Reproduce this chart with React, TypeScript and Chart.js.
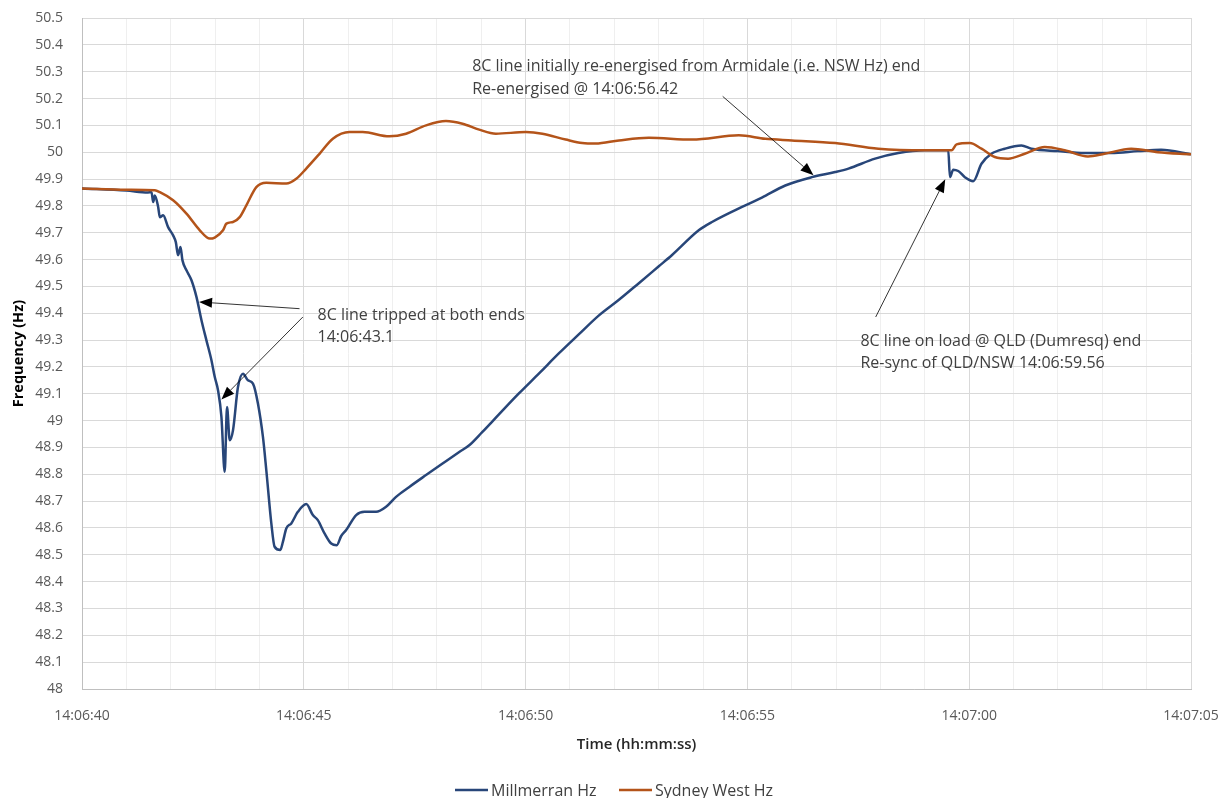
import React, { useEffect, useRef } from "react";
import { Chart, registerables } from "chart.js";

Chart.register(...registerables);

// seconds after 14:06:40
const millT = [0, 1.0, 1.485, 1.568, 1.604, 1.642, 1.717, 1.755, 1.829, 1.941, 2.054, 2.115, 2.166, 2.22, 2.265, 2.355, 2.468, 2.58, 2.693, 2.805, 2.918, 2.992, 3.066, 3.143, 3.217, 3.269, 3.33, 3.404, 3.516, 3.629, 3.741, 3.854, 3.966, 4.079, 4.155, 4.268, 4.342, 4.47, 4.529, 4.605, 4.718, 4.866, 5.055, 5.204, 5.316, 5.467, 5.618, 5.744, 5.843, 5.955, 6.18, 6.367, 6.63, 6.855, 7.08, 7.379, 7.755, 8.128, 8.504, 8.729, 9.021, 9.404, 9.854, 10.304, 10.754, 11.204, 11.654, 12.104, 12.553, 13.003, 13.296, 13.903, 14.202, 14.954, 15.327, 15.854, 16.452, 16.979, 17.278, 17.879, 18.403, 19.003, 19.528, 19.566, 19.64, 19.753, 19.903, 20.09, 20.277, 20.502, 20.803, 21.177, 21.402, 22.002, 22.603, 23.201, 23.802, 24.326, 25.0];
const millHz = [49.865, 49.857, 49.85, 49.851, 49.814, 49.839, 49.796, 49.758, 49.765, 49.721, 49.69, 49.665, 49.616, 49.647, 49.597, 49.56, 49.523, 49.461, 49.374, 49.299, 49.225, 49.163, 49.113, 49.014, 48.809, 49.051, 48.927, 48.964, 49.125, 49.175, 49.15, 49.138, 49.064, 48.939, 48.815, 48.617, 48.53, 48.518, 48.548, 48.598, 48.617, 48.66, 48.689, 48.648, 48.629, 48.58, 48.542, 48.536, 48.57, 48.592, 48.648, 48.66, 48.66, 48.679, 48.716, 48.753, 48.797, 48.84, 48.883, 48.908, 48.957, 49.024, 49.102, 49.176, 49.251, 49.322, 49.392, 49.45, 49.512, 49.575, 49.616, 49.709, 49.74, 49.802, 49.831, 49.876, 49.907, 49.926, 49.939, 49.976, 49.997, 50.007, 50.007, 49.907, 49.935, 49.93, 49.907, 49.892, 49.957, 49.994, 50.013, 50.025, 50.013, 50.004, 49.997, 49.997, 50.004, 50.009, 49.992];

const sydT = [0, 1.0, 1.642, 1.755, 2.054, 2.355, 2.655, 2.88, 2.992, 3.179, 3.255, 3.404, 3.555, 3.705, 3.93, 4.155, 4.605, 4.83, 5.055, 5.354, 5.654, 6.03, 6.329, 6.929, 7.305, 7.755, 8.205, 8.578, 8.954, 9.33, 10.004, 10.378, 10.904, 11.278, 11.579, 12.104, 12.778, 13.753, 14.806, 15.403, 16.002, 16.979, 17.953, 19.003, 19.528, 19.603, 19.715, 20.015, 20.277, 20.578, 20.877, 21.253, 21.703, 22.153, 22.677, 23.052, 23.652, 24.252, 25.0];
const sydHz = [49.865, 49.86, 49.858, 49.851, 49.821, 49.771, 49.709, 49.678, 49.682, 49.709, 49.734, 49.74, 49.758, 49.802, 49.87, 49.886, 49.883, 49.901, 49.939, 49.994, 50.05, 50.075, 50.075, 50.059, 50.069, 50.1, 50.116, 50.106, 50.084, 50.069, 50.075, 50.069, 50.047, 50.034, 50.032, 50.044, 50.054, 50.047, 50.063, 50.05, 50.044, 50.034, 50.013, 50.007, 50.007, 50.007, 50.029, 50.034, 50.013, 49.982, 49.976, 49.994, 50.019, 50.007, 49.984, 49.994, 50.013, 50.0, 49.992];

const seriesNames = ["Millmerran Hz", "Sydney West Hz"];
const seriesColors = ["#284679", "#B4541A"];

const startSeconds = 14 * 3600 + 6 * 60 + 40;

// annotation texts and arrows in data units (seconds, Hz)
const noteTexts = [
  { t: 5.31, v: 49.392, lines: ["8C line tripped at both ends", "14:06:43.1"] },
  { t: 8.796, v: 50.319, lines: ["8C line initially re-energised from Armidale (i.e. NSW Hz) end", "Re-energised @ 14:06:56.42"] },
  { t: 17.548, v: 49.296, lines: ["8C line on load @ QLD (Dumresq) end", "Re-sync of QLD/NSW 14:06:59.56"] },
];
const noteArrows = [
  { t0: 4.904, v0: 49.417, t1: 2.639, v1: 49.442 },
  { t0: 4.979, v0: 49.386, t1: 3.143, v1: 49.079 },
  { t0: 14.443, v0: 50.208, t1: 16.49, v1: 49.914 },
  { t0: 17.892, v0: 49.386, t1: 19.46, v1: 49.899 },
];

const FONT = "'Open Sans', 'Noto Sans', sans-serif";

function fmtTime(sec: number) {
  const s = startSeconds + Math.round(sec);
  const h = Math.floor(s / 3600);
  const m = Math.floor((s % 3600) / 60);
  const ss = s % 60;
  const p = (n: number) => String(n).padStart(2, "0");
  return `${h}:${p(m)}:${p(ss)}`;
}

const annotationPlugin = {
  id: "notes",
  afterDatasetsDraw(chart: any) {
    const { ctx } = chart;
    const xs = chart.scales.x;
    const ys = chart.scales.y;
    ctx.save();
    ctx.strokeStyle = "#000";
    ctx.fillStyle = "#000";
    ctx.lineWidth = 0.8;
    for (const a of noteArrows) {
      const x0 = xs.getPixelForValue(a.t0);
      const y0 = ys.getPixelForValue(a.v0);
      const x1 = xs.getPixelForValue(a.t1);
      const y1 = ys.getPixelForValue(a.v1);
      const ang = Math.atan2(y1 - y0, x1 - x0);
      const L = 13;
      const W = 5;
      const bx = x1 - L * Math.cos(ang);
      const by = y1 - L * Math.sin(ang);
      ctx.beginPath();
      ctx.moveTo(x0, y0);
      ctx.lineTo(bx, by);
      ctx.stroke();
      ctx.beginPath();
      ctx.moveTo(x1, y1);
      ctx.lineTo(bx + W * Math.sin(ang), by - W * Math.cos(ang));
      ctx.lineTo(bx - W * Math.sin(ang), by + W * Math.cos(ang));
      ctx.closePath();
      ctx.fill();
    }
    ctx.fillStyle = "#404040";
    ctx.font = `16px ${FONT}`;
    ctx.textAlign = "left";
    ctx.textBaseline = "middle";
    for (const n of noteTexts) {
      const x = xs.getPixelForValue(n.t);
      const y = ys.getPixelForValue(n.v);
      n.lines.forEach((ln, i) => ctx.fillText(ln, x, y + i * 22.5));
    }
    ctx.restore();
  },
  afterDraw(chart: any) {
    const { ctx } = chart;
    ctx.save();
    ctx.font = `16px ${FONT}`;
    ctx.textBaseline = "middle";
    ctx.textAlign = "left";
    const y = 790;
    const items = [
      { x: 455, label: seriesNames[0], color: seriesColors[0] },
      { x: 619, label: seriesNames[1], color: seriesColors[1] },
    ];
    for (const it of items) {
      ctx.strokeStyle = it.color;
      ctx.lineWidth = 2.5;
      ctx.beginPath();
      ctx.moveTo(it.x, y);
      ctx.lineTo(it.x + 33, y);
      ctx.stroke();
      ctx.fillStyle = "#404040";
      ctx.fillText(it.label, it.x + 36, y + 1);
    }
    ctx.restore();
  },
};

export default function App() {
  const ref = useRef<HTMLCanvasElement | null>(null);
  useEffect(() => {
    if (!ref.current) return;
    const chart = new Chart(ref.current, {
      type: "line",
      data: {
        datasets: [
          {
            label: seriesNames[0],
            data: millT.map((t, i) => ({ x: t, y: millHz[i] })),
            borderColor: seriesColors[0],
            backgroundColor: seriesColors[0],
            borderWidth: 2.5,
            pointRadius: 0,
            cubicInterpolationMode: "monotone",
            order: 1,
          },
          {
            label: seriesNames[1],
            data: sydT.map((t, i) => ({ x: t, y: sydHz[i] })),
            borderColor: seriesColors[1],
            backgroundColor: seriesColors[1],
            borderWidth: 2.5,
            pointRadius: 0,
            cubicInterpolationMode: "monotone",
            order: 0,
          },
        ],
      },
      options: {
        animation: false,
        responsive: false,
        maintainAspectRatio: false,
        layout: { padding: { left: 0, right: 38, top: 18, bottom: 0 } },
        plugins: {
          legend: { display: false },
          tooltip: { enabled: false },
        },
        scales: {
          x: {
            type: "linear",
            min: 0,
            max: 25,
            afterFit: (s: any) => {
              s.height = 109;
              s.paddingLeft = 0;
              s.paddingRight = 0;
            },
            border: { color: "#BFBFBF", width: 1 },
            grid: {
              drawTicks: false,
              color: (c: any) => (Math.round(c.tick.value) % 5 === 0 ? "#D9D9D9" : "#EFEFEF"),
              lineWidth: 1,
            },
            ticks: {
              stepSize: 1,
              autoSkip: false,
              maxRotation: 0,
              padding: 19,
              color: "#595959",
              font: { family: FONT, size: 14 },
              callback: (v: any) => (Math.round(v) % 5 === 0 ? fmtTime(v) : ""),
            },
            title: {
              display: true,
              text: "Time (hh:mm:ss)",
              color: "#262626",
              font: { family: FONT, size: 15, weight: "600" },
              padding: { top: 0, bottom: 44 },
            },
          },
          y: {
            type: "linear",
            min: 48,
            max: 50.5,
            afterFit: (s: any) => {
              s.width = 82;
              s.paddingTop = 0;
              s.paddingBottom = 0;
            },
            border: { color: "#BFBFBF", width: 1 },
            grid: { drawTicks: false, color: "#D9D9D9", lineWidth: 1 },
            ticks: {
              stepSize: 0.1,
              autoSkip: false,
              padding: 19,
              color: "#595959",
              font: { family: FONT, size: 14 },
              callback: (v: any) => String(Number(Number(v).toFixed(1))),
            },
            title: {
              display: true,
              text: "Frequency (Hz)",
              color: "#000",
              font: { family: FONT, size: 14.5, weight: "bold" },
              padding: { top: 10.3, bottom: 0 },
            },
          },
        },
      },
      plugins: [annotationPlugin],
    });
    return () => chart.destroy();
  }, []);
  return (
    <div style={{ position: "fixed", left: 0, top: 0, width: 1229, height: 798, background: "#fff" }}>
      <canvas ref={ref} width={1229} height={798} style={{ display: "block" }} />
    </div>
  );
}
